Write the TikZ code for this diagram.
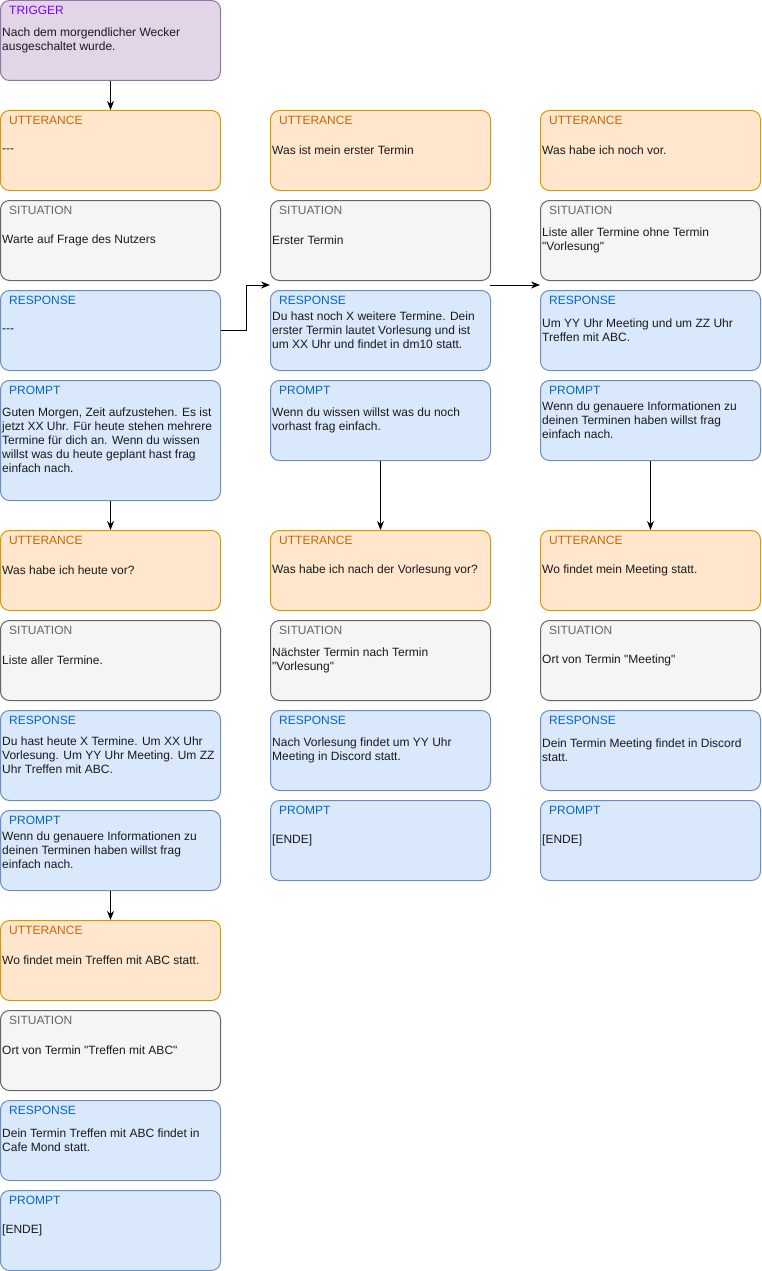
\documentclass[tikz,border=0pt]{standalone}
\usepackage{fontspec}
\setmainfont{Liberation Sans}[Ligatures=TeXOff]
\usetikzlibrary{arrows.meta}
\definecolor{trigF}{HTML}{E1D5E7}\definecolor{trigD}{HTML}{9673A6}\definecolor{trigT}{HTML}{7F00FF}
\definecolor{uttF}{HTML}{FFE6CC}\definecolor{uttD}{HTML}{D79B00}\definecolor{uttT}{HTML}{CC6600}
\definecolor{sitF}{HTML}{F5F5F5}\definecolor{sitD}{HTML}{666666}\definecolor{sitT}{HTML}{666666}
\definecolor{bluF}{HTML}{DAE8FC}\definecolor{bluD}{HTML}{6C8EBF}\definecolor{bluT}{HTML}{0066CC}
\definecolor{bodyT}{HTML}{1A1A1A}
\tikzset{
  basebox/.style={draw, line width=1pt, rounded corners=9pt, minimum width=220pt, inner sep=0pt},
  trigbox/.style={basebox, fill=trigF, draw=trigD},
  uttbox/.style={basebox, fill=uttF, draw=uttD},
  sitbox/.style={basebox, fill=sitF, draw=sitD},
  blubox/.style={basebox, fill=bluF, draw=bluD},
  txt/.style={font=\fontsize{12}{14}\selectfont, inner sep=0pt},
  arr/.style={line width=1pt, -{Stealth[length=9pt,width=7pt]}}
}
\newcommand\mybox[8]{%
  \node[#5, minimum height=#4pt, anchor=north west] (#1) at (#2,#3) {};
  \node[txt, anchor=west, text=#6] (#1-t) at ([xshift=9pt,yshift=-10.5pt]#1.north west) {#7};
  \node[txt, anchor=west, align=left, text=bodyT] (#1-b) at ([xshift=2pt]#1.west) {#8};
}
\begin{document}
\begin{tikzpicture}[x=1pt,y=-1pt]
\useasboundingbox (0,0) rectangle (761,1271);
% column 1
\mybox{trig}{0}{0}{80}{trigbox}{trigT}{TRIGGER}{Nach dem morgendlicher Wecker\\ausgeschaltet wurde.}
\mybox{ua}{0}{110}{80}{uttbox}{uttT}{UTTERANCE}{---}
\mybox{sa}{0}{200}{80}{sitbox}{sitT}{SITUATION}{Warte auf Frage des Nutzers}
\mybox{ra}{0}{290}{80}{blubox}{bluT}{RESPONSE}{---}
\mybox{pa}{0}{380}{120}{blubox}{bluT}{PROMPT}{Guten Morgen, Zeit aufzustehen. Es ist\\jetzt XX Uhr. Für heute stehen mehrere\\Termine für dich an. Wenn du wissen\\willst was du heute geplant hast frag\\einfach nach.}
\mybox{ub}{0}{530}{80}{uttbox}{uttT}{UTTERANCE}{Was habe ich heute vor?}
\mybox{sb}{0}{620}{80}{sitbox}{sitT}{SITUATION}{Liste aller Termine.}
\mybox{rb}{0}{710}{90}{blubox}{bluT}{RESPONSE}{Du hast heute X Termine. Um XX Uhr\\Vorlesung. Um YY Uhr Meeting. Um ZZ\\Uhr Treffen mit ABC.}
\mybox{pb}{0}{810}{80}{blubox}{bluT}{PROMPT}{Wenn du genauere Informationen zu\\deinen Terminen haben willst frag\\einfach nach.}
\mybox{uc}{0}{920}{80}{uttbox}{uttT}{UTTERANCE}{Wo findet mein Treffen mit ABC statt.}
\mybox{sc}{0}{1010}{80}{sitbox}{sitT}{SITUATION}{Ort von Termin "Treffen mit ABC"}
\mybox{rc}{0}{1100}{80}{blubox}{bluT}{RESPONSE}{Dein Termin Treffen mit ABC findet in\\Cafe Mond statt.}
\mybox{pc}{0}{1190}{80}{blubox}{bluT}{PROMPT}{[ENDE]}
% column 2
\mybox{ud}{270}{110}{80}{uttbox}{uttT}{UTTERANCE}{Was ist mein erster Termin}
\mybox{sd}{270}{200}{80}{sitbox}{sitT}{SITUATION}{Erster Termin}
\mybox{rd}{270}{290}{80}{blubox}{bluT}{RESPONSE}{Du hast noch X weitere Termine. Dein\\erster Termin lautet Vorlesung und ist\\um XX Uhr und findet in dm10 statt.}
\mybox{pd}{270}{380}{80}{blubox}{bluT}{PROMPT}{Wenn du wissen willst was du noch\\vorhast frag einfach.}
\mybox{ue}{270}{530}{80}{uttbox}{uttT}{UTTERANCE}{Was habe ich nach der Vorlesung vor?}
\mybox{se}{270}{620}{80}{sitbox}{sitT}{SITUATION}{Nächster Termin nach Termin\\"Vorlesung"}
\mybox{re}{270}{710}{80}{blubox}{bluT}{RESPONSE}{Nach Vorlesung findet um YY Uhr\\Meeting in Discord statt.}
\mybox{pe}{270}{800}{80}{blubox}{bluT}{PROMPT}{[ENDE]}
% column 3
\mybox{uf}{540}{110}{80}{uttbox}{uttT}{UTTERANCE}{Was habe ich noch vor.}
\mybox{sf}{540}{200}{80}{sitbox}{sitT}{SITUATION}{Liste aller Termine ohne Termin\\"Vorlesung"}
\mybox{rf}{540}{290}{80}{blubox}{bluT}{RESPONSE}{Um YY Uhr Meeting und um ZZ Uhr\\Treffen mit ABC.}
\mybox{pf}{540}{380}{80}{blubox}{bluT}{PROMPT}{Wenn du genauere Informationen zu\\deinen Terminen haben willst frag\\einfach nach.}
\mybox{ug}{540}{530}{80}{uttbox}{uttT}{UTTERANCE}{Wo findet mein Meeting statt.}
\mybox{sg}{540}{620}{80}{sitbox}{sitT}{SITUATION}{Ort von Termin "Meeting"}
\mybox{rg}{540}{710}{80}{blubox}{bluT}{RESPONSE}{Dein Termin Meeting findet in Discord\\statt.}
\mybox{pg}{540}{800}{80}{blubox}{bluT}{PROMPT}{[ENDE]}
% connectors
\coordinate (c2in) at (270,285);
\coordinate (c2out) at (490,285);
\coordinate (c3in) at (540,285);
\draw[arr] (trig.south) -- (ua.north);
\draw[arr] (pa.south) -- (ub.north);
\draw[arr] (pb.south) -- (uc.north);
\draw[arr] (pd.south) -- (ue.north);
\draw[arr] (pf.south) -- (ug.north);
\draw[arr] (ra.east) -- ++(25,0) |- (c2in);
\draw[arr] (c2out) -- (c3in);
\end{tikzpicture}
\end{document}
